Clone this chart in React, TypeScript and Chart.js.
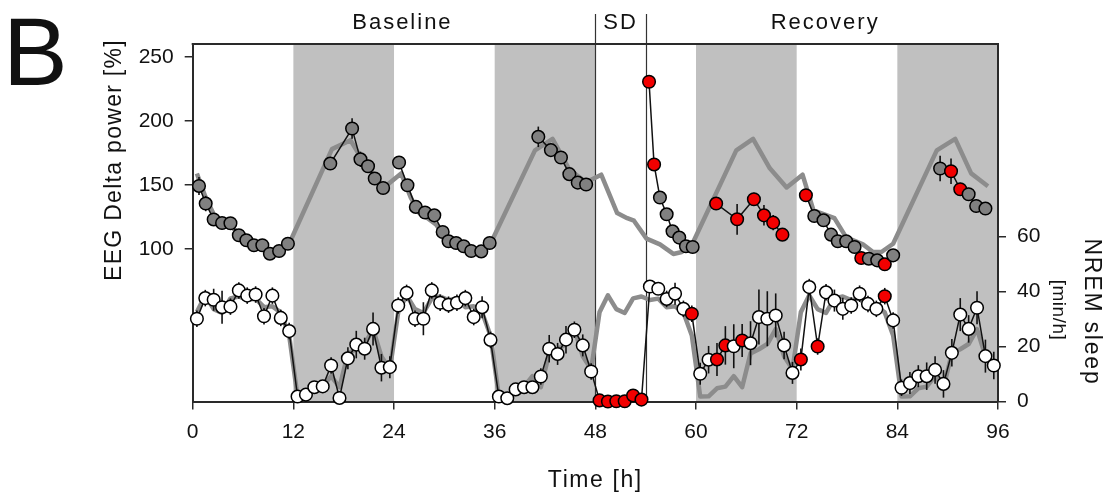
import React, { useEffect, useRef } from "react";
import { Chart, registerables } from "chart.js";

Chart.register(...registerables);

// ---------- axes & annotation values ----------
const hourTicks = [0, 12, 24, 36, 48, 60, 72, 84, 96];
const deltaTicks = [100, 150, 200, 250];
const nremTicks = [0, 20, 40, 60];
const darkPhases: [number, number][] = [[12, 24], [36, 48], [60, 72], [84, 96]];
const sdBoundaries = [48, 54];
const periodNames = ["Baseline", "SD", "Recovery"];

// ---------- EEG delta power (%), null = break in the line ----------
const deltaHours = [
  0.75, 1.55, 2.5, 3.5, 4.5, 5.5, 6.4, 7.3, 8.3, 9.2, 10.3, 11.35, 14,
  16.4, 19.0, 20.0, 20.9, 21.7, 22.7, 23.6,
  24.6, 25.6, 26.6, 27.7, 28.8, 29.8, 30.5, 31.4, 32.3, 33.2, 34.4, 35.4, 38,
  41.2, 42.7, 43.9, 44.9, 45.9, 46.9, 50,
  54.4, 55.0, 55.7, 56.5, 57.2, 58.0, 58.8, 59.6, 61,
  62.4, 64.9, 66.9, 68.1, 69.2, 70.3, 71.7,
  73.1, 74.1, 75.2, 76.1, 76.9, 77.9, 78.9, 79.7, 80.6, 81.6, 82.5, 83.5, 86,
  89.1, 90.4, 91.5, 92.5, 93.4, 94.5,
];
const deltaValues = [
  149.2, 135.4, 123, 120.2, 120, 110.6, 106.7, 102.8, 102.8, 96.2, 98.3, 104, null,
  166.7, 194.1, 170, 164.6, 155, 147.6, null,
  167.5, 149.7, 132.8, 128.4, 126.2, 113.2, 105.9, 104.6, 102, 98.3, 98, 104.6, null,
  187.6, 177.2, 171.4, 158.4, 151.8, 150.3, null,
  230.7, 166, 140.1, 127, 113.7, 108.8, 102, 101.4, null,
  135.4, 123.1, 138.8, 126.2, 120.5, 111.1, null,
  141.9, 125.7, 122.3, 111.1, 105.9, 105.9, 101.4, 92.8, 92.3, 91, 87.9, 94.9, null,
  162.8, 160.7, 146.6, 142.7, 133.5, 131.5,
];
const deltaSem = [
  7, 6, 3, 3, 3, 3, 3, 3, 3, 3, 3, 3, 0,
  3, 8, 6, 5, 3, 3, 0,
  4, 3, 3, 3, 3, 3, 3, 3, 3, 3, 3, 3, 0,
  8, 5, 3, 3, 4, 4, 0,
  3, 3, 3, 3, 3, 3, 3, 3, 0,
  4, 12, 5, 8, 6, 3, 0,
  3, 3, 3, 3, 4, 3, 3, 3, 3, 3, 4, 3, 0,
  10, 10, 5, 5, 5, 5,
];
const deltaIsRed = [
  0, 0, 0, 0, 0, 0, 0, 0, 0, 0, 0, 0, 0,
  0, 0, 0, 0, 0, 0, 0,
  0, 0, 0, 0, 0, 0, 0, 0, 0, 0, 0, 0, 0,
  0, 0, 0, 0, 0, 0, 0,
  1, 1, 0, 0, 0, 0, 0, 0, 0,
  1, 1, 1, 1, 1, 1, 0,
  1, 0, 0, 0, 0, 0, 0, 1, 0, 0, 1, 0, 0,
  0, 1, 1, 0, 0, 0,
];

// ---------- delta power model curve (grey) ----------
const modelHours = [
  0.5, 1.5, 2.5, 3.5, 4.5, 5.5, 6.5, 7.5, 8.5, 9.5, 10.5, 11.5, 16.6, 18.8, 20, 21, 22, 22.8,
  24.85, 26, 27, 28, 29, 30, 31, 32, 33, 34, 35.5, 40.8, 42.9, 44.9, 46.9, 48.7,
  50.6, 51.8, 52.6, 54.1, 55.7, 57.3, 58.3, 59.5, 64.8, 66.8, 68.8, 70.8, 72.7,
  74, 76.5, 77.9, 79.9, 81.1, 82.1, 83.5, 88.7, 90.9, 92.8, 94.8,
];
const modelValues = [
  159, 141, 127, 121, 118, 112, 107, 103, 101, 98, 100, 104, 178, 185, 172, 163, 154, 148,
  159, 140, 128, 124, 119, 110, 105, 102, 99, 97, 104, 177, 186, 162, 152, 158,
  128, 124, 122, 108, 103.5, 96, 97.5, 103, 177, 186, 163, 148, 158,
  130, 124, 109, 103.5, 97.5, 97.5, 104, 177, 186, 159, 149,
];

// ---------- NREM sleep (min/h), hourly bins 0..95 ----------
const nremValues = [
  30.1, 37.6, 37, 34.3, 34.5, 40.4, 38.5, 38.9, 31, 38.5, 30.4, 25.6,
  1.8, 2.5, 5.2, 5.5, 13.1, 1.3, 15.7, 20.7, 19.2, 26.4, 12.3, 12.5,
  34.9, 39.5, 30.1, 30.1, 40.4, 35.9, 35.2, 35.9, 37.6, 30.7, 34.3, 22.4,
  1.8, 1.2, 4.4, 5.2, 5.2, 9.1, 19.2, 17.3, 22.5, 26.1, 20.4, 10.9,
  0.4, 0, 0.1, 0.1, 2.2, 0.7, 41.8, 41, 37.3, 39.2, 33.7, 31.9,
  10.1, 15.2, 15.3, 20.4, 20.1, 22.2, 21.2, 30.7, 30.1, 31.3, 20.4, 10.4,
  15.3, 41.6, 20, 39.7, 36.7, 33.7, 34.9, 39.2, 35.5, 33.7, 38.3, 29.5,
  5, 6.7, 9.2, 9.2, 11.5, 6.4, 17.7, 31.6, 26.4, 34.1, 16.5, 13.1,
];
const nremSem = [
  3, 3, 4, 6, 3, 3, 3, 3, 3, 3, 3, 3,
  1, 1, 2, 2, 3, 1, 4, 5, 4, 6, 5, 4,
  3, 3, 3, 6, 3, 3, 3, 3, 3, 3, 4, 3,
  1, 1, 2, 2, 2, 3, 5, 4, 5, 3, 4, 3,
  0, 0, 0, 0, 1, 0, 2, 2, 3, 4, 3, 3,
  4, 5, 6, 7, 8, 6, 8, 10, 10, 8, 5, 4,
  4, 3, 3, 3, 4, 4, 3, 3, 3, 3, 3, 3,
  3, 4, 4, 5, 5, 5, 5, 6, 5, 6, 6, 5,
];
const nremRedBins = [48, 49, 50, 51, 52, 53, 59, 62, 63, 65, 72, 74, 82];
// mean baseline 24-h NREM profile (grey line, repeated over the 4 days)
const nremBaselineProfile = [
  32.5, 38.6, 33.6, 32.2, 37.5, 38.2, 36.9, 37.4, 34.3, 34.6, 32.4, 24.0,
  1.8, 1.9, 4.8, 5.4, 9.2, 5.2, 17.5, 19.0, 20.9, 26.3, 16.4, 11.7,
];
const recordedDays = 4;

// ---------- styles ----------
const FONT = "'Liberation Sans', Arial, Helvetica, sans-serif";
const AXIS = "#2a2a2a";
const SHADE = "#c0c0c0";
const GREY_LINE = "#8c8c8c";
const GREY_DOT = "#808080";
const RED = "#f20000";

const decorPlugin = {
  id: "decor",
  beforeDraw(chart: any) {
    const { ctx, chartArea, scales } = chart;
    const x = scales.x;
    ctx.save();
    ctx.fillStyle = SHADE;
    for (const [a, b] of darkPhases) {
      const x0 = x.getPixelForValue(a);
      const x1 = x.getPixelForValue(b);
      ctx.fillRect(x0, chartArea.top, x1 - x0, chartArea.bottom - chartArea.top);
    }
    ctx.restore();
  },
  beforeDatasetsDraw(chart: any) {
    const { ctx, chartArea, scales } = chart;
    const x = scales.x;
    ctx.save();
    ctx.strokeStyle = "#333";
    ctx.lineWidth = 1.2;
    for (const h of sdBoundaries) {
      const px = Math.round(x.getPixelForValue(h)) + 0.5;
      ctx.beginPath();
      ctx.moveTo(px, 14);
      ctx.lineTo(px, chartArea.bottom);
      ctx.stroke();
    }
    ctx.strokeStyle = AXIS;
    ctx.lineWidth = 2;
    ctx.beginPath();
    ctx.moveTo(chartArea.left - 1, chartArea.top);
    ctx.lineTo(chartArea.right + 1, chartArea.top);
    ctx.stroke();
    ctx.restore();
  },
  beforeDatasetDraw(chart: any, args: any) {
    const ds = chart.data.datasets[args.index];
    if (!ds.errorBars) return;
    const { ctx } = chart;
    const yScale = chart.scales[ds.yAxisID];
    ctx.save();
    ctx.strokeStyle = "#111";
    ctx.lineWidth = 1.6;
    args.meta.data.forEach((el: any, i: number) => {
      const raw = ds.data[i];
      const e = ds.errorBars[i];
      if (raw == null || raw.y == null || !e || !isFinite(el.x)) return;
      const y0 = yScale.getPixelForValue(raw.y + e);
      const y1 = yScale.getPixelForValue(raw.y - e);
      ctx.beginPath();
      ctx.moveTo(el.x, y0);
      ctx.lineTo(el.x, y1);
      ctx.stroke();
    });
    ctx.restore();
  },
  afterDraw(chart: any) {
    const { ctx, scales } = chart;
    const x = scales.x;
    const text = (
      s: string, px: number, py: number, size: number, spacing: number,
      rot = 0, align: CanvasTextAlign = "center", base: CanvasTextBaseline = "alphabetic"
    ) => {
      ctx.save();
      ctx.translate(px, py);
      ctx.rotate(rot);
      ctx.font = `${size}px ${FONT}`;
      (ctx as any).letterSpacing = `${spacing}px`;
      ctx.fillStyle = "#111";
      ctx.textAlign = align;
      ctx.textBaseline = base;
      ctx.fillText(s, 0, 0);
      ctx.restore();
    };
    const centers = [25, 51, 75.4];
    periodNames.forEach((n, i) => text(n, x.getPixelForValue(centers[i]), 29, 22, 2));
    text("Time [h]", (chart.chartArea.left + chart.chartArea.right) / 2, 487, 23, 1.6);
    text("EEG Delta power [%]", 121, 160, 23, 1.3, -Math.PI / 2);
    text("NREM sleep", 1085, 312, 23, 1.8, Math.PI / 2);
    text("[min/h]", 1053, 310, 19, 0.5, Math.PI / 2);
    text("B", 3, 85, 97, 0, 0, "left");
  },
};

export default function App() {
  const ref = useRef<HTMLCanvasElement | null>(null);

  useEffect(() => {
    if (!ref.current) return;
    Chart.defaults.font.family = FONT;

    const deltaPoints = deltaHours.map((h, i) => ({ x: h, y: deltaValues[i] }));
    const modelPoints = modelHours.map((h, i) => ({ x: h, y: modelValues[i] }));
    const nremPoints = nremValues.map((v, i) => ({ x: i + 0.5, y: v }));
    const nremRefPoints: { x: number; y: number }[] = [];
    for (let d = 0; d < recordedDays; d++) {
      nremBaselineProfile.forEach((v, h) => nremRefPoints.push({ x: d * 24 + h + 0.5, y: v }));
    }

    const chart = new Chart(ref.current, {
      type: "line",
      data: {
        datasets: [
          {
            data: deltaPoints as any,
            yAxisID: "y",
            order: 1,
            borderColor: "#111",
            borderWidth: 1.5,
            spanGaps: false,
            clip: false as any,
            pointRadius: 6.3,
            pointBorderWidth: 1.5,
            pointBorderColor: "#000",
            pointBackgroundColor: deltaIsRed.map((r) => (r ? RED : GREY_DOT)),
            errorBars: deltaSem,
          } as any,
          {
            data: nremPoints as any,
            yAxisID: "y2",
            order: 1,
            borderColor: "#111",
            borderWidth: 1.5,
            clip: false as any,
            pointRadius: 6.3,
            pointBorderWidth: 1.5,
            pointBorderColor: "#000",
            pointBackgroundColor: nremValues.map((_, i) => (nremRedBins.includes(i) ? RED : "#ffffff")),
            errorBars: nremSem,
          } as any,
          {
            data: modelPoints as any,
            yAxisID: "y",
            order: 2,
            borderColor: GREY_LINE,
            borderWidth: 4.5,
            pointRadius: 0,
            borderJoinStyle: "round",
          } as any,
          {
            data: nremRefPoints as any,
            yAxisID: "y2",
            order: 2,
            borderColor: GREY_LINE,
            borderWidth: 4.5,
            pointRadius: 0,
            borderJoinStyle: "round",
          } as any,
        ],
      },
      options: {
        responsive: false,
        animation: false,
        devicePixelRatio: 1,
        layout: { padding: { top: 44, left: 0, right: 0, bottom: 0 } },
        plugins: { legend: { display: false }, tooltip: { enabled: false } },
        elements: { line: { tension: 0 } },
        scales: {
          x: {
            type: "linear",
            position: "bottom",
            min: 0,
            max: 96,
            afterBuildTicks: (s: any) => { s.ticks = hourTicks.map((v) => ({ value: v })); },
            afterFit: (s: any) => { s.height = 95.5; },
            grid: { drawOnChartArea: false, drawTicks: true, tickLength: 8, color: AXIS, lineWidth: 1.5 },
            border: { display: true, color: AXIS, width: 2 },
            ticks: { font: { size: 21, family: FONT }, color: "#111", padding: 10, maxRotation: 0, autoSkip: false },
          },
          y: {
            type: "linear",
            position: "left",
            min: -19.4,
            max: 260.2,
            afterBuildTicks: (s: any) => { s.ticks = deltaTicks.map((v) => ({ value: v })); },
            afterFit: (s: any) => { s.width = 192.7; },
            grid: { drawOnChartArea: false, drawTicks: true, tickLength: 8, color: AXIS, lineWidth: 1.5 },
            border: { display: true, color: AXIS, width: 2 },
            ticks: { font: { size: 21, family: FONT }, color: "#111", padding: 11 },
          },
          y2: {
            type: "linear",
            position: "right",
            min: 0,
            max: 130,
            afterBuildTicks: (s: any) => { s.ticks = nremTicks.map((v) => ({ value: v })); },
            afterFit: (s: any) => { s.width = 111; },
            grid: { drawOnChartArea: false, drawTicks: true, tickLength: 8, color: AXIS, lineWidth: 1.5 },
            border: { display: true, color: AXIS, width: 2 },
            ticks: { font: { size: 21, family: FONT }, color: "#111", padding: 11 },
          },
        },
      } as any,
      plugins: [decorPlugin],
    });

    return () => chart.destroy();
  }, []);

  return (
    <div style={{ position: "absolute", left: 0, top: 0, width: 1109, height: 497, background: "#ffffff" }}>
      <canvas ref={ref} width={1109} height={497} style={{ display: "block" }} />
    </div>
  );
}
